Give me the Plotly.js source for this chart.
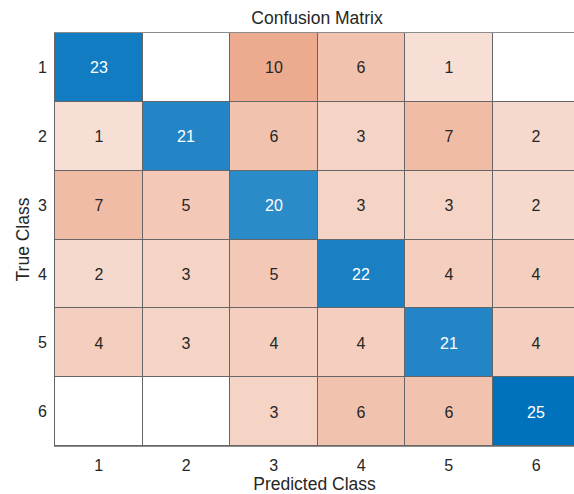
<!DOCTYPE html>
<html>
<head>
<meta charset="utf-8">
<script src="https://cdn.plot.ly/plotly-3.0.1.min.js"></script>
<style>html,body{margin:0;padding:0;background:#fff;}#chart{width:574px;height:494px;}</style>
</head>
<body>
<div id="chart"></div>
<script>
const classes = [1, 2, 3, 4, 5, 6];
const trueClassRows = [1, 2, 3, 4, 5, 6];
const counts = [
  [23, 0, 10, 6, 1, 0],
  [1, 21, 6, 3, 7, 2],
  [7, 5, 20, 3, 3, 2],
  [2, 3, 5, 22, 4, 4],
  [4, 3, 4, 4, 21, 4],
  [0, 0, 3, 6, 6, 25]
];
const tickLabels = ['1', '2', '3', '4', '5', '6'];

const zMax = 25;
const diagZ = counts.map((row, i) => row.map((v, j) => (i === j ? v : null)));
const offZ = counts.map((row, i) => row.map((v, j) => (i === j ? null : v)));
const diagText = counts.map((row, i) => row.map((v, j) => (i === j && v !== 0 ? String(v) : '')));
const offText = counts.map((row, i) => row.map((v, j) => (i !== j && v !== 0 ? String(v) : '')));

function blend(rgb, a) {
  const c = rgb.map(x => Math.round(255 - a * (255 - x)));
  return 'rgb(' + c.join(',') + ')';
}
const blue = [0, 114, 189];
const orange = [217, 83, 25];
const a0 = 0.15;
const offScale = [[0, '#ffffff'], [0.0005, blend(orange, a0)], [1, blend(orange, 1)]];
const diagScale = [[0, '#ffffff'], [0.0005, blend(blue, a0)], [1, blend(blue, 1)]];

const font = 'Liberation Sans, Arial, Helvetica, sans-serif';

const traces = [
  {
    type: 'heatmap', x: classes, y: trueClassRows, z: offZ, text: offText,
    texttemplate: '%{text}', textfont: {family: font, size: 16, color: '#262626'},
    colorscale: offScale, zmin: 0, zmax: zMax, showscale: false,
    xgap: 1, ygap: 1, hoverinfo: 'skip'
  },
  {
    type: 'heatmap', x: classes, y: trueClassRows, z: diagZ, text: diagText,
    texttemplate: '%{text}', textfont: {family: font, size: 16, color: '#ffffff'},
    colorscale: diagScale, zmin: 0, zmax: zMax, showscale: false,
    xgap: 1, ygap: 1, hoverinfo: 'skip'
  }
];

const layout = {
  width: 574, height: 494,
  margin: {l: 55, r: 0, t: 33, b: 48, pad: 0},
  paper_bgcolor: '#ffffff',
  plot_bgcolor: '#666666',
  font: {family: font, color: '#262626', size: 16},
  title: {
    text: 'Confusion Matrix', font: {family: font, size: 17.5, color: '#262626'},
    xref: 'container', yref: 'container', x: 317 / 574, xanchor: 'center',
    y: 1 - 18 / 494, yanchor: 'middle'
  },
  xaxis: {
    range: [0.5, 0.5 + 519 / 87.5], tickvals: classes, ticktext: tickLabels,
    ticks: 'outside', ticklen: 5, tickcolor: 'rgba(0,0,0,0)',
    showgrid: false, zeroline: false, showline: true, linecolor: '#8c8c8c', linewidth: 1, mirror: true,
    tickfont: {family: font, size: 16, color: '#262626'},
    title: {text: 'Predicted Class', font: {family: font, size: 17.5, color: '#262626'}, standoff: 7},
    fixedrange: true
  },
  yaxis: {
    range: [6.5, 0.5], tickvals: trueClassRows, ticktext: tickLabels,
    ticks: 'outside', ticklen: 4, tickcolor: 'rgba(0,0,0,0)',
    showgrid: false, zeroline: false, showline: true, linecolor: '#666666', linewidth: 1, mirror: true,
    tickfont: {family: font, size: 16, color: '#262626'},
    title: {text: 'True Class', font: {family: font, size: 17.5, color: '#262626'}, standoff: 3},
    fixedrange: true
  }
};

Plotly.newPlot('chart', traces, layout, {displayModeBar: false, staticPlot: true});
</script>
</body>
</html>
